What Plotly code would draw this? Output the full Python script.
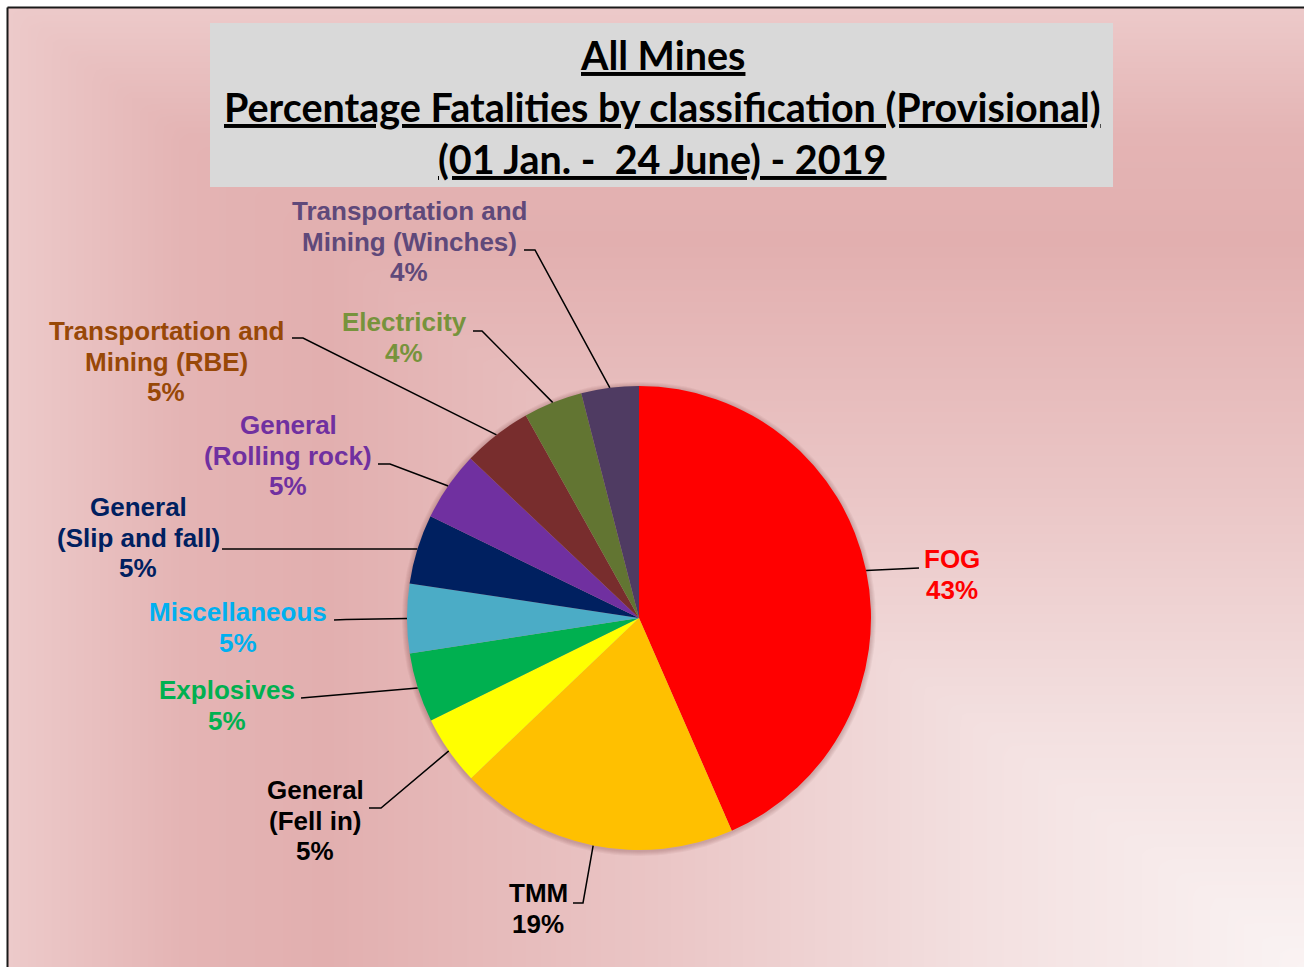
import numpy as np
import plotly.graph_objects as go

W, H = 1304, 967

# ---------------- data ----------------
categories = [
    "FOG",
    "TMM",
    "General\n(Fell in)",
    "Explosives",
    "Miscellaneous",
    "General\n(Slip and fall)",
    "General\n(Rolling rock)",
    "Transportation and\nMining (RBE)",
    "Electricity",
    "Transportation and\nMining (Winches)",
]
values = [43.4, 19.4, 4.83, 4.83, 4.83, 4.83, 4.83, 4.83, 4.1, 4.0]

slice_colors = ["#FF0000", "#FFC000", "#FFFF00", "#00B050", "#4BACC6",
                "#002060", "#7030A0", "#782D2D", "#627532", "#4F3B62"]
label_colors = ["#FF0000", "#000000", "#000000", "#00B050", "#00B0F0",
                "#002060", "#7030A0", "#984807", "#77933C", "#5F497A"]

title_lines = ["All Mines",
               "Percentage Fatalities by classification (Provisional)",
               "(01 Jan. -  24 June) - 2019"]

# ---------------- layout positions (pixels) ----------------
label_x = [952, 538, 315, 227, 238, 138, 288, 166, 404, 409]
label_y = [559, 893, 790, 690, 612, 507, 425, 331, 322, 211]
tail_start = [(919, 568), (573, 903), (369, 808), (301, 698), (334, 620),
              (222, 549), (378, 464), (292, 338), (473, 331), (524, 250)]
tail_elbow = [(907, 568.5), (583, 903), (381, 808), (312, 697), (346, 619.5),
              (234, 549), (390, 464), (303, 338), (482, 331), (535, 250)]
line_gap = 30.5

pie_dom_x = [407 / W, 871 / W]
pie_dom_y = [1 - 850 / H, 1 - 386 / H]

fig = go.Figure()

# background gradient (rectangular gradient from bottom-right corner)
gx = np.linspace(0, W, 90)
gy = np.linspace(0, H, 70)
GX, GY = np.meshgrid(gx, gy)
T = np.maximum((W - GX) / W, (H - GY) / H)
fig.add_trace(go.Heatmap(
    x=gx, y=gy, z=T, zsmooth="best", showscale=False, hoverinfo="skip",
    zmin=0, zmax=1,
    colorscale=[[0.0, "#FAF3F3"], [0.25, "#F3E0E0"], [0.5, "#EAC5C5"],
                [0.75, "#E2AFAF"], [0.86, "#E4B4B4"], [1.0, "#EDCBCB"]],
))

cx = (pie_dom_x[0] + pie_dom_x[1]) / 2 * W
cy = (1 - (pie_dom_y[0] + pie_dom_y[1]) / 2) * H
r = min((pie_dom_x[1] - pie_dom_x[0]) * W, (pie_dom_y[1] - pie_dom_y[0]) * H) / 2

# soft shadow under the pie
th = np.linspace(0, 2 * np.pi, 240)
for k in [5, 4, 3, 2, 1]:
    fig.add_trace(go.Scatter(
        x=cx + (r + k) * np.sin(th), y=cy + 1 + (r + k) * np.cos(th),
        mode="lines", fill="toself", fillcolor="rgba(90,30,30,0.05)",
        line=dict(width=0), hoverinfo="skip", showlegend=False,
    ))

# pie
fig.add_trace(go.Pie(
    labels=[c.replace("\n", " ") for c in categories], values=values,
    sort=False, direction="clockwise", rotation=0,
    marker=dict(colors=slice_colors, line=dict(width=0)),
    textinfo="none", hoverinfo="label+percent", showlegend=False,
    domain=dict(x=pie_dom_x, y=pie_dom_y),
))

# leader lines computed from the pie geometry
total = sum(values)
cum = 0.0
annotations = []
for i, v in enumerate(values):
    mid = (cum + v / 2) / total * 2 * np.pi
    cum += v
    ex = cx + r * np.sin(mid)
    ey = cy - r * np.cos(mid)
    fig.add_trace(go.Scatter(
        x=[tail_start[i][0], tail_elbow[i][0], ex],
        y=[tail_start[i][1], tail_elbow[i][1], ey],
        mode="lines", line=dict(color="#000000", width=1.5),
        hoverinfo="skip", showlegend=False,
    ))
    pct = f"{round(v / total * 100)}%"
    lines = categories[i].split("\n") + [pct]
    for j, ln in enumerate(lines):
        annotations.append(dict(
            x=label_x[i], y=label_y[i] + j * line_gap, xref="x", yref="y",
            text=f"<b>{ln}</b>", showarrow=False, xanchor="center", yanchor="middle",
            font=dict(family="Liberation Sans, Arial, sans-serif", size=26,
                      color=label_colors[i]),
        ))

title_y = [54, 106, 158]
for ln, ty in zip(title_lines, title_y):
    annotations.append(dict(
        x=662, y=ty, xref="x", yref="y", text=f"<b><u>{ln}</u></b>",
        showarrow=False, xanchor="center", yanchor="middle",
        font=dict(family="Lato, sans-serif", size=39.5, color="#000000"),
    ))

shapes = [
    # white page outside chart frame
    dict(type="rect", xref="x", yref="y", x0=-5, x1=7, y0=-5, y1=H + 5,
         fillcolor="white", line=dict(width=0), layer="above"),
    dict(type="rect", xref="x", yref="y", x0=-5, x1=W + 5, y0=-5, y1=7,
         fillcolor="white", line=dict(width=0), layer="above"),
    # frame
    dict(type="line", xref="x", yref="y", x0=7.5, x1=7.5, y0=7.5, y1=H + 5,
         line=dict(color="#1a1a1a", width=2), layer="above"),
    dict(type="line", xref="x", yref="y", x0=7.5, x1=W + 5, y0=7.5, y1=7.5,
         line=dict(color="#1a1a1a", width=2), layer="above"),
    # title box
    dict(type="rect", xref="x", yref="y", x0=210, x1=1113, y0=23, y1=187,
         fillcolor="#D9D9D9", line=dict(width=0), layer="above"),
]

fig.update_layout(
    width=W, height=H, margin=dict(l=0, r=0, t=0, b=0),
    paper_bgcolor="white", plot_bgcolor="white",
    xaxis=dict(range=[0, W], visible=False, fixedrange=True, domain=[0, 1]),
    yaxis=dict(range=[H, 0], visible=False, fixedrange=True, domain=[0, 1]),
    annotations=annotations, shapes=shapes, showlegend=False,
)

fig.write_html("out.html", config={"displayModeBar": False},
               post_script="document.body.style.margin='0';")
